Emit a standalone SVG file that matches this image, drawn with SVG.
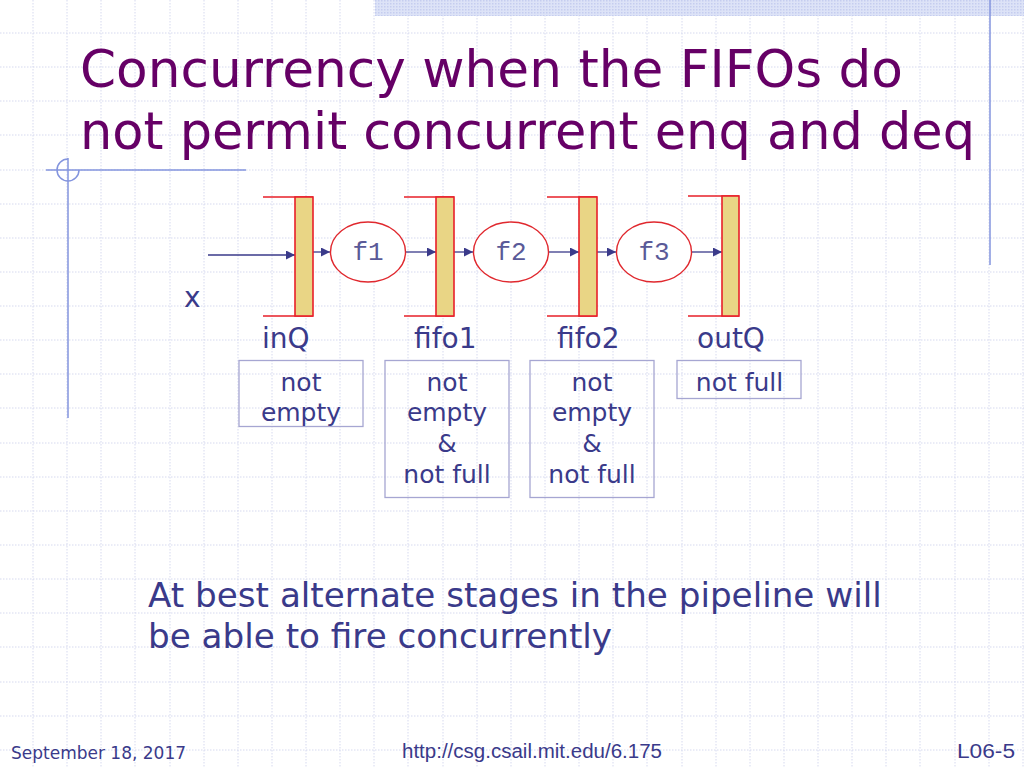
<svg xmlns="http://www.w3.org/2000/svg" width="1024" height="768" viewBox="0 0 1024 768">
<defs>
<style>
.grid{stroke:#d6d9ef;stroke-width:1;stroke-dasharray:1.5 1.5;fill:none}
.deco{stroke:#8394de;stroke-width:1.5;fill:none}
.title{font-family:"DejaVu Sans",Verdana,sans-serif;font-size:51.8px;fill:#660066}
.lbl{font-family:"DejaVu Sans",Verdana,sans-serif;font-size:28px;fill:#3a3a8a}
.box{fill:none;stroke:#a6a6d2;stroke-width:1.3}
.bt{font-family:"DejaVu Sans",Verdana,sans-serif;font-size:25px;fill:#3a3a8a;text-anchor:middle}
.body{font-family:"DejaVu Sans",Verdana,sans-serif;font-size:34.2px;fill:#3a3a8a}
.fifo{fill:#e9d585;stroke:#e8202a;stroke-width:1.6}
.cap{stroke:#e8202a;stroke-width:1.6;fill:none}
.fn{fill:#ffffff;stroke:#e0282e;stroke-width:1.4}
.ft{font-family:"Liberation Mono","Courier New",monospace;font-size:26px;fill:#5a5a98;text-anchor:middle}
.arr{stroke:#3a3a8a;stroke-width:1.3;fill:none;marker-end:url(#ah)}
.foot{font-family:"DejaVu Sans",Verdana,sans-serif;font-size:17px;fill:#3a3a8a}
.foot2{font-family:"Liberation Sans",Arial,sans-serif;font-size:20px;fill:#3a3a8a}
</style>
<pattern id="dots" patternUnits="userSpaceOnUse" width="3" height="3">
<rect width="3" height="3" fill="#dde3f7"/>
<rect width="1.5" height="1.5" fill="#c5cdef"/>
</pattern>
<marker id="ah" viewBox="0 0 10 10" refX="10" refY="5" markerWidth="11" markerHeight="9" markerUnits="userSpaceOnUse" orient="auto">
<path d="M0,0 L10,5 L0,10 z" fill="#3a3a8a"/>
</marker>
</defs>
<rect width="1024" height="768" fill="#ffffff"/>
<path class="grid" d="M33,0V768M67,0V768M101,0V768M135,0V768M170,0V768M204,0V768M238,0V768M272,0V768M306,0V768M340,0V768M374,0V768M408,0V768M443,0V768M477,0V768M511,0V768M545,0V768M579,0V768M613,0V768M647,0V768M682,0V768M716,0V768M750,0V768M784,0V768M818,0V768M852,0V768M886,0V768M920,0V768M955,0V768M989,0V768M1023,0V768M0,33H1024M0,67H1024M0,101H1024M0,135H1024M0,170H1024M0,204H1024M0,238H1024M0,272H1024M0,306H1024M0,340H1024M0,374H1024M0,408H1024M0,443H1024M0,477H1024M0,511H1024M0,545H1024M0,579H1024M0,613H1024M0,647H1024M0,682H1024M0,716H1024M0,750H1024"/>
<rect x="375" y="0" width="649" height="16" fill="url(#dots)"/>
<g id="decor">
<path class="deco" d="M990,0V265"/>
<path class="deco" d="M68,158V418"/>
<path class="deco" d="M46,170H246"/>
<path class="deco" d="M79,170 A11,11 0 1 1 68,159"/>
</g>
<g id="title">
<text class="title" x="80" y="87" textLength="823" lengthAdjust="spacingAndGlyphs">Concurrency when the FIFOs do</text>
<text class="title" x="80" y="149" textLength="895" lengthAdjust="spacingAndGlyphs">not permit concurrent enq and deq</text>
</g>
<g id="connectors">
<path class="arr" d="M208,255H295"/>
<path class="arr" d="M313,252H330"/>
<path class="arr" d="M406,252H436"/>
<path class="arr" d="M454,252H473"/>
<path class="arr" d="M549,252H579"/>
<path class="arr" d="M597,252H616"/>
<path class="arr" d="M692,252H722"/>
</g>
<g id="inQ">
<path class="cap" d="M263,197H313M263,316H313"/>
<rect class="fifo" x="295" y="197" width="18" height="119"/>
<text class="lbl" x="262" y="348">inQ</text>
</g>
<g id="f1">
<ellipse class="fn" cx="368" cy="252" rx="37.5" ry="30"/>
<text class="ft" x="368" y="260">f1</text>
</g>
<g id="fifo1">
<path class="cap" d="M404,197H454M404,316H454"/>
<rect class="fifo" x="436" y="197" width="18" height="119"/>
<text class="lbl" x="414" y="348">fifo1</text>
</g>
<g id="f2">
<ellipse class="fn" cx="511" cy="252" rx="37.5" ry="30"/>
<text class="ft" x="511" y="260">f2</text>
</g>
<g id="fifo2">
<path class="cap" d="M547,197H597M547,316H597"/>
<rect class="fifo" x="579" y="197" width="18" height="119"/>
<text class="lbl" x="557" y="348">fifo2</text>
</g>
<g id="f3">
<ellipse class="fn" cx="654" cy="252" rx="37.5" ry="30"/>
<text class="ft" x="654" y="260">f3</text>
</g>
<g id="outQ">
<path class="cap" d="M688,196H739M688,316H739"/>
<rect class="fifo" x="722" y="196" width="17" height="120"/>
<text class="lbl" x="697" y="348">outQ</text>
</g>
<g id="x-label">
<text class="lbl" x="184" y="307">x</text>
</g>
<g id="cond-inQ">
<rect class="box" x="239" y="360.5" width="124" height="66"/>
<text class="bt" x="301" y="391">not</text>
<text class="bt" x="301" y="421">empty</text>
</g>
<g id="cond-fifo1">
<rect class="box" x="385" y="360.5" width="124" height="137"/>
<text class="bt" x="447" y="391">not</text>
<text class="bt" x="447" y="421">empty</text>
<text class="bt" x="447" y="452">&amp;</text>
<text class="bt" x="447" y="483">not full</text>
</g>
<g id="cond-fifo2">
<rect class="box" x="530" y="360.5" width="124" height="137"/>
<text class="bt" x="592" y="391">not</text>
<text class="bt" x="592" y="421">empty</text>
<text class="bt" x="592" y="452">&amp;</text>
<text class="bt" x="592" y="483">not full</text>
</g>
<g id="cond-outQ">
<rect class="box" x="677" y="360.5" width="124" height="38"/>
<text class="bt" x="739.5" y="391">not full</text>
</g>
<g id="body">
<text class="body" x="148" y="607">At best alternate stages in the pipeline will</text>
<text class="body" x="148" y="648">be able to fire concurrently</text>
</g>
<g id="footer">
<text class="foot" x="11" y="759">September 18, 2017</text>
<text class="foot2" x="402" y="758" textLength="260" lengthAdjust="spacingAndGlyphs">http://csg.csail.mit.edu/6.175</text>
<text class="foot2" x="957" y="758" textLength="58" lengthAdjust="spacingAndGlyphs">L06-5</text>
</g>
</svg>
